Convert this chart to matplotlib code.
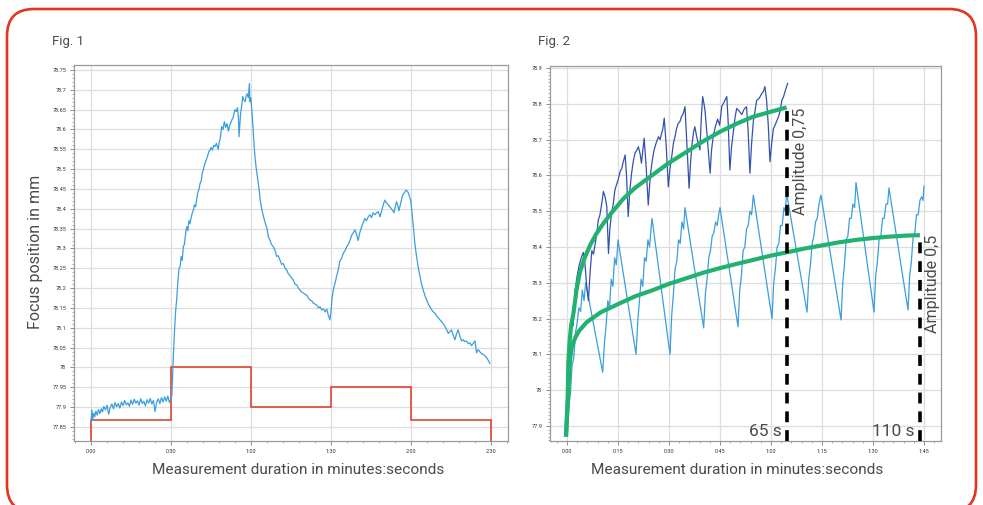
import matplotlib
matplotlib.use("Agg")
import matplotlib.pyplot as plt
from matplotlib.patches import FancyBboxPatch
from matplotlib.ticker import MultipleLocator, FuncFormatter

plt.rcParams['font.family'] = ['Roboto', 'DejaVu Sans']

# ---------------- data, Fig. 1 ----------------
fig1_t = [0, 0.3, 0.6, 1.0, 1.4, 1.8, 2.3, 2.8, 3.3, 3.8, 4.3, 4.8, 5.4, 6.0, 6.6, 7.2, 7.8, 8.4, 9.0, 9.6,
          10.2, 10.8, 11.4, 12.0, 12.6, 13.2, 13.8, 14.4, 15.0, 15.6, 16.2, 16.8, 17.4, 18.0, 18.6, 19.2, 19.8,
          20.4, 21.0, 21.6, 22.2, 22.8, 23.4, 24.0, 24.6, 25.2, 25.8, 26.4, 27.0, 27.6, 28.2, 28.8, 29.4, 30.0,
          30.3, 30.7, 31.2, 31.7, 32.1, 32.6, 33.0, 33.4, 33.8, 34.2, 34.6, 35.0, 35.5, 35.9, 36.3, 36.7, 37.1,
          37.6, 38.0, 38.4, 38.8, 39.2, 39.6, 40.0, 40.5, 40.9, 41.3, 41.7, 42.1, 42.5, 43.0, 43.4, 43.8, 44.2,
          44.6, 45.0, 45.5, 46.0, 46.5, 47.0, 47.7, 48.1, 48.4, 49.0, 49.5, 50.0, 50.5, 51.0, 51.5, 52.0, 52.8,
          53.3, 53.6, 54.0, 54.5, 54.9, 55.3, 55.5, 55.8, 56.1, 56.5, 56.9, 57.3, 57.8, 58.2, 58.6, 59.0, 59.4,
          59.6, 59.9, 60.3, 60.8, 61.2, 61.6, 62.0, 62.5, 62.9, 63.5, 64.1, 64.7, 65.4, 66.0, 66.5, 67.1, 67.7,
          68.3, 69.0, 69.6, 70.2, 70.9, 71.5, 72.1, 72.8, 73.4, 74.0, 74.6, 75.3, 75.9, 76.5, 77.2, 77.8, 78.4,
          79.0, 79.6, 80.3, 80.9, 81.5, 82.2, 82.8, 83.4, 84.0, 84.7, 85.3, 85.9, 86.5, 87.2, 87.8, 88.4, 89.0,
          89.6, 90.0, 90.4, 91.0, 91.5, 92.1, 92.7, 93.1, 93.4, 94.0, 94.6, 95.3, 95.9, 96.5, 97.2, 97.8, 98.4,
          99.0, 99.6, 100.2, 100.8, 101.5, 102.1, 102.7, 103.3, 104.0, 104.6, 105.2, 105.8, 106.5, 107.1, 107.7,
          108.4, 109.0, 109.6, 110.2, 110.8, 111.5, 112.1, 112.7, 113.2, 113.6, 114.1, 114.6, 115.0, 115.5,
          116.0, 116.5, 116.9, 117.5, 118.1, 118.6, 119.0, 119.5, 119.9, 120.4, 120.9, 121.5, 122.1, 122.8,
          123.4, 124.0, 124.6, 125.3, 125.9, 126.5, 127.1, 127.8, 128.4, 129.0, 129.6, 130.3, 130.9, 131.5,
          132.2, 132.8, 133.4, 134.0, 134.6, 135.2, 135.9, 136.5, 137.1, 137.7, 138.3, 139.0, 139.6, 140.2,
          140.8, 141.5, 142.1, 142.7, 143.3, 144.0, 144.6, 145.2, 145.8, 146.5, 147.1, 147.7, 148.3, 149.0, 149.6]
fig1_focus = [77.862, 77.893, 77.868, 77.885, 77.876, 77.890, 77.880, 77.894, 77.884, 77.896, 77.888, 77.902,
              77.893, 77.905, 77.882, 77.900, 77.908, 77.896, 77.912, 77.901, 77.909, 77.898, 77.913, 77.904,
              77.917, 77.906, 77.911, 77.902, 77.918, 77.907, 77.920, 77.910, 77.916, 77.905, 77.921, 77.909,
              77.915, 77.903, 77.919, 77.910, 77.922, 77.908, 77.917, 77.889, 77.912, 77.921, 77.909, 77.924,
              77.913, 77.926, 77.915, 77.928, 77.912, 77.921,
              77.93, 78.0, 78.08, 78.14, 78.17, 78.22, 78.25, 78.254, 78.28, 78.27, 78.305, 78.31, 78.34, 78.355,
              78.345, 78.37, 78.363, 78.38, 78.39, 78.397, 78.41, 78.405, 78.422, 78.44, 78.45, 78.464, 78.47,
              78.49, 78.498, 78.51, 78.52, 78.527, 78.535, 78.545, 78.548, 78.555, 78.548, 78.56, 78.557, 78.565,
              78.55, 78.57, 78.574, 78.607, 78.6, 78.62, 78.605, 78.615, 78.596, 78.61, 78.624, 78.63, 78.64,
              78.65, 78.645, 78.655, 78.63, 78.582, 78.61, 78.64, 78.66, 78.683, 78.675, 78.67, 78.685, 78.69,
              78.68, 78.716, 78.67, 78.68, 78.65, 78.6, 78.555, 78.523, 78.5, 78.475, 78.456, 78.42, 78.397,
              78.38, 78.363, 78.35, 78.33, 78.321, 78.31, 78.305, 78.296, 78.28, 78.282, 78.27, 78.26, 78.262,
              78.25, 78.246, 78.236, 78.232, 78.225, 78.22, 78.21, 78.208, 78.2, 78.195, 78.19, 78.188, 78.184,
              78.183, 78.175, 78.17, 78.168, 78.162, 78.16, 78.157, 78.15, 78.153, 78.145, 78.148, 78.14, 78.147,
              78.132, 78.12, 78.14, 78.175, 78.2, 78.212, 78.23, 78.246, 78.26, 78.27, 78.275, 78.288, 78.295,
              78.305, 78.31, 78.322, 78.334, 78.34, 78.347, 78.335, 78.32, 78.34, 78.355, 78.365, 78.376, 78.37,
              78.38, 78.385, 78.378, 78.39, 78.385, 78.39, 78.393, 78.38, 78.395, 78.41, 78.422, 78.415, 78.41,
              78.405, 78.4, 78.395, 78.39, 78.405, 78.418, 78.41, 78.395, 78.41, 78.425, 78.435, 78.44, 78.447,
              78.445, 78.44, 78.43, 78.422, 78.39, 78.355, 78.31, 78.28, 78.25, 78.229, 78.21, 78.195, 78.18,
              78.17, 78.16, 78.153, 78.145, 78.14, 78.137, 78.13, 78.125, 78.12, 78.115, 78.11, 78.103, 78.095,
              78.086, 78.09, 78.095, 78.08, 78.07, 78.085, 78.095, 78.08, 78.067, 78.07, 78.065, 78.067, 78.06,
              78.062, 78.055, 78.06, 78.067, 78.037, 78.045, 78.04, 78.035, 78.033, 78.03, 78.025, 78.018, 78.01]

# setpoint steps (red)
step_edges = [0, 30, 60, 90, 120, 150]
step_values = [77.867, 78.0, 77.9, 77.95, 77.867]

# ---------------- data, Fig. 2 ----------------
fast_t = [1.8, 2.4, 3.0, 3.6, 4.2, 4.8, 5.3, 5.8, 6.3, 6.8, 7.3, 7.8, 8.3, 8.8, 9.2, 9.7, 10.2, 10.7, 11.2, 11.7,
          12.2, 12.6, 13.1, 13.6, 14.1, 14.6, 15.1, 15.6, 16.1, 16.6, 17.1, 17.5, 18.0, 18.5, 19.0, 19.5, 20.0,
          20.5, 21.0, 21.5, 21.9, 22.3, 22.7, 23.3, 23.9, 24.5, 25.1, 25.6, 26.2, 26.9, 27.4, 27.8, 28.2, 28.6,
          29.2, 29.8, 30.3, 30.8, 31.3, 31.8, 32.2, 32.7, 33.2, 33.7, 34.2, 34.7, 35.3, 35.9, 36.3, 36.7, 37.2,
          37.6, 38.1, 38.6, 39.1, 39.5, 39.9, 40.3, 40.6, 41.3, 42.1, 42.5, 43.0, 43.6, 44.3, 44.9, 45.5, 46.2,
          47.0, 47.4, 47.9, 48.4, 48.9, 49.4, 49.9, 50.6, 51.4, 52.1, 52.8, 53.3, 53.8, 54.3, 54.8, 55.3, 55.8,
          56.5, 57.3, 57.8, 58.2, 58.7, 59.2, 59.7, 60.2, 60.7, 61.4, 62.2, 62.7, 63.2, 63.7, 64.3, 64.9]
fast_focus = [78.18, 78.28, 78.32, 78.35, 78.37, 78.385, 78.35, 78.29, 78.25, 78.33, 78.39, 78.38, 78.41, 78.44,
              78.475, 78.49, 78.52, 78.555, 78.54, 78.513, 78.382, 78.45, 78.494, 78.52, 78.56, 78.575, 78.59,
              78.61, 78.62, 78.64, 78.657, 78.6, 78.485, 78.56, 78.606, 78.64, 78.662, 78.67, 78.68, 78.66,
              78.634, 78.67, 78.704, 78.62, 78.517, 78.6, 78.643, 78.67, 78.69, 78.708, 78.7, 78.717, 78.73,
              78.76, 78.68, 78.568, 78.62, 78.652, 78.69, 78.71, 78.73, 78.745, 78.75, 78.765, 78.773, 78.792,
              78.68, 78.564, 78.63, 78.68, 78.72, 78.736, 78.71, 78.69, 78.671, 78.76, 78.82, 78.8, 78.78, 78.7,
              78.606, 78.67, 78.708, 78.735, 78.757, 78.74, 78.792, 78.805, 78.82, 78.75, 78.615, 78.68, 78.72,
              78.76, 78.787, 78.78, 78.77, 78.785, 78.792, 78.72, 78.606, 78.69, 78.75, 78.78, 78.81, 78.815,
              78.829, 78.835, 78.848, 78.81, 78.74, 78.638, 78.69, 78.73, 78.745, 78.764, 78.78, 78.81, 78.82,
              78.84, 78.857]

slow_t = [0, 0.5, 1.0, 1.5, 2.0, 2.5, 3.0, 3.5, 4.0, 4.5, 5.0, 5.5, 10.5,
          11.0, 11.5, 12.0, 12.5, 13.0, 13.5, 14.0, 14.5, 14.8, 15.0, 20.3,
          20.8, 21.3, 21.8, 22.3, 22.8, 23.3, 23.8, 24.3, 24.7, 25.0, 30.3,
          30.8, 31.3, 31.8, 32.3, 32.8, 33.3, 33.8, 34.3, 34.7, 40.2,
          40.7, 41.2, 41.7, 42.2, 42.7, 43.2, 43.7, 44.2, 44.6, 45.0, 50.3,
          50.8, 51.3, 51.8, 52.3, 52.8, 53.3, 53.8, 54.3, 54.8, 60.3,
          60.8, 61.3, 61.8, 62.3, 62.8, 63.3, 63.8, 64.2, 64.6, 70.6,
          71.1, 71.6, 72.1, 72.6, 73.1, 73.6, 74.1, 74.7, 80.6,
          81.1, 81.6, 82.1, 82.6, 83.1, 83.6, 84.1, 84.6, 85.0, 90.3,
          90.8, 91.3, 91.8, 92.3, 92.8, 93.3, 93.8, 94.3, 94.7, 100.3,
          100.8, 101.3, 101.8, 102.3, 102.8, 103.3, 103.8, 104.3, 104.7, 105.0]
slow_focus = [77.90, 77.96, 77.99, 78.07, 78.09, 78.16, 78.19, 78.23, 78.22, 78.28, 78.25, 78.30, 78.05,
              78.13, 78.18, 78.25, 78.23, 78.31, 78.29, 78.37, 78.35, 78.39, 78.42, 78.10,
              78.19, 78.25, 78.31, 78.29, 78.37, 78.36, 78.42, 78.40, 78.45, 78.48, 78.10,
              78.21, 78.27, 78.34, 78.36, 78.42, 78.41, 78.47, 78.45, 78.51, 78.174,
              78.27, 78.31, 78.37, 78.39, 78.43, 78.44, 78.47, 78.46, 78.49, 78.51, 78.177,
              78.28, 78.32, 78.39, 78.40, 78.45, 78.46, 78.50, 78.49, 78.545, 78.20,
              78.30, 78.34, 78.40, 78.41, 78.46, 78.46, 78.51, 78.50, 78.55, 78.218,
              78.31, 78.35, 78.41, 78.43, 78.47, 78.48, 78.52, 78.545, 78.196,
              78.30, 78.35, 78.42, 78.43, 78.48, 78.48, 78.52, 78.51, 78.58, 78.218,
              78.32, 78.36, 78.42, 78.43, 78.48, 78.48, 78.52, 78.52, 78.565, 78.224,
              78.32, 78.36, 78.43, 78.44, 78.49, 78.49, 78.53, 78.54, 78.53, 78.57]

fit_fast_t = [-0.3, 0.2, 0.4, 0.8, 1.2, 1.9, 2.8, 3.8, 5.2, 6.8, 8.5, 10.7, 13.5, 16.6, 20, 24.4, 30,
              35.2, 40, 45, 50, 54.8, 60, 64.6]
fit_fast = [77.87, 77.98, 78.08, 78.14, 78.18, 78.215, 78.28, 78.33, 78.37, 78.405, 78.435, 78.466, 78.5,
            78.535, 78.565, 78.596, 78.635, 78.666, 78.695, 78.722, 78.745, 78.764, 78.778, 78.79]
fit_slow_t = [-0.3, 0.3, 0.6, 0.9, 1.4, 2.4, 3.5, 5.8, 10, 15.6, 20, 25.4, 30, 35.2, 40, 45, 50, 54.8, 60,
              65.6, 70, 75.4, 80, 85.2, 90, 95, 100, 103.8]
fit_slow = [77.87, 77.97, 78.04, 78.085, 78.12, 78.146, 78.165, 78.19, 78.218, 78.243, 78.262, 78.28, 78.297,
            78.313, 78.328, 78.341, 78.353, 78.364, 78.376, 78.387, 78.396, 78.405, 78.413, 78.42, 78.425,
            78.429, 78.432, 78.433]

mark_t = [64.8, 103.8]
mark_top = [78.79, 78.433]
mark_labels = ["65 s", "110 s"]
amp_labels = ["Amplitude 0,75", "Amplitude 0,5"]

# ---------------- style ----------------
txt_col = "#4a4a4a"
light_blue = "#3a9fdc"
dark_blue = "#3352ae"
green = "#22b26f"
red = "#e1351f"


def mmss(x, pos):
    x = int(round(x))
    return "%d:%02d" % (x // 60, x % 60)


def style_axes(ax):
    for s in ax.spines.values():
        s.set_color("#9a9a9a")
        s.set_linewidth(0.9)
    ax.grid(True, which="major", color="#dddddd", linewidth=0.9)
    ax.set_axisbelow(True)
    ax.tick_params(which="major", length=3, width=0.6, color="#777777",
                   labelsize=4, labelcolor="#333333", pad=2.5)
    ax.tick_params(which="minor", length=1.6, width=0.5, color="#888888")
    ax.xaxis.set_major_formatter(FuncFormatter(mmss))
    ax.yaxis.set_major_formatter(FuncFormatter(lambda v, p: "%g" % round(v, 2)))


fig = plt.figure(figsize=(9.83, 5.05), dpi=100)

# red rounded frame
frame = FancyBboxPatch((0.07, -0.07), 9.69, 5.03,
                       boxstyle="round,pad=0,rounding_size=0.27",
                       transform=fig.dpi_scale_trans, facecolor="none",
                       edgecolor=red, linewidth=1.9)
fig.patches.append(frame)

# ---- Fig. 1 ----
ax1 = fig.add_axes([74 / 983, 64 / 505, 434 / 983, 376 / 505])
style_axes(ax1)
ax1.plot(fig1_t, fig1_focus, color=light_blue, linewidth=0.9)
ax1.stairs(step_values, step_edges, baseline=77.7, color=red, linewidth=1.1)
ax1.set_xlim(-6.4, 156.4)
ax1.set_ylim(77.8147, 78.7626)
ax1.xaxis.set_major_locator(MultipleLocator(30))
ax1.xaxis.set_minor_locator(MultipleLocator(6))
ax1.yaxis.set_major_locator(MultipleLocator(0.05))
ax1.yaxis.set_minor_locator(MultipleLocator(0.01))

# ---- Fig. 2 ----
ax2 = fig.add_axes([550 / 983, 64 / 505, 391 / 983, 375 / 505])
style_axes(ax2)
ax2.plot(slow_t, slow_focus, color=light_blue, linewidth=0.9)
ax2.plot(fast_t, fast_focus, color=dark_blue, linewidth=0.9)
ax2.plot(fit_fast_t, fit_fast, color=green, linewidth=3, solid_capstyle="butt")
ax2.plot(fit_slow_t, fit_slow, color=green, linewidth=3, solid_capstyle="butt")
ax2.set_xlim(-5, 110)
ax2.set_ylim(77.858, 78.9056)
ax2.xaxis.set_major_locator(MultipleLocator(15))
ax2.xaxis.set_minor_locator(MultipleLocator(3))
ax2.yaxis.set_major_locator(MultipleLocator(0.1))
ax2.yaxis.set_minor_locator(MultipleLocator(0.01))

ybot = ax2.get_ylim()[0]
for t, top, lab, amp in zip(mark_t, mark_top, mark_labels, amp_labels):
    ax2.vlines(t, ybot, top, colors="black", linewidth=2.6,
               linestyles=(0, (3.0, 2.2)), zorder=5)
    ax2.annotate(lab, xy=(t, 0), xycoords=("data", "axes fraction"),
                 xytext=(-4, 1.5), textcoords="offset points",
                 ha="right", va="bottom", fontsize=12.5, color=txt_col)
    ax2.annotate(amp, xy=(t, top), xytext=(4, 0), textcoords="offset points",
                 rotation=90, ha="left", va="top", fontsize=11.5,
                 color=txt_col)

# texts
fig.text(52 / 983, 1 - 41 / 505, "Fig. 1", fontsize=9.5, color=txt_col,
         ha="left", va="center")
fig.text(538 / 983, 1 - 41 / 505, "Fig. 2", fontsize=9.5, color=txt_col,
         ha="left", va="center")
fig.text(36 / 983, 1 - 252 / 505, "Focus position in mm", rotation=90,
         fontsize=11.5, color=txt_col, ha="center", va="center")
fig.text(298 / 983, 1 - 470 / 505, "Measurement duration in minutes:seconds",
         fontsize=11.1, color=txt_col, ha="center", va="center")
fig.text(737 / 983, 1 - 470 / 505, "Measurement duration in minutes:seconds",
         fontsize=11.1, color=txt_col, ha="center", va="center")

fig.savefig("out.png", dpi=100)
